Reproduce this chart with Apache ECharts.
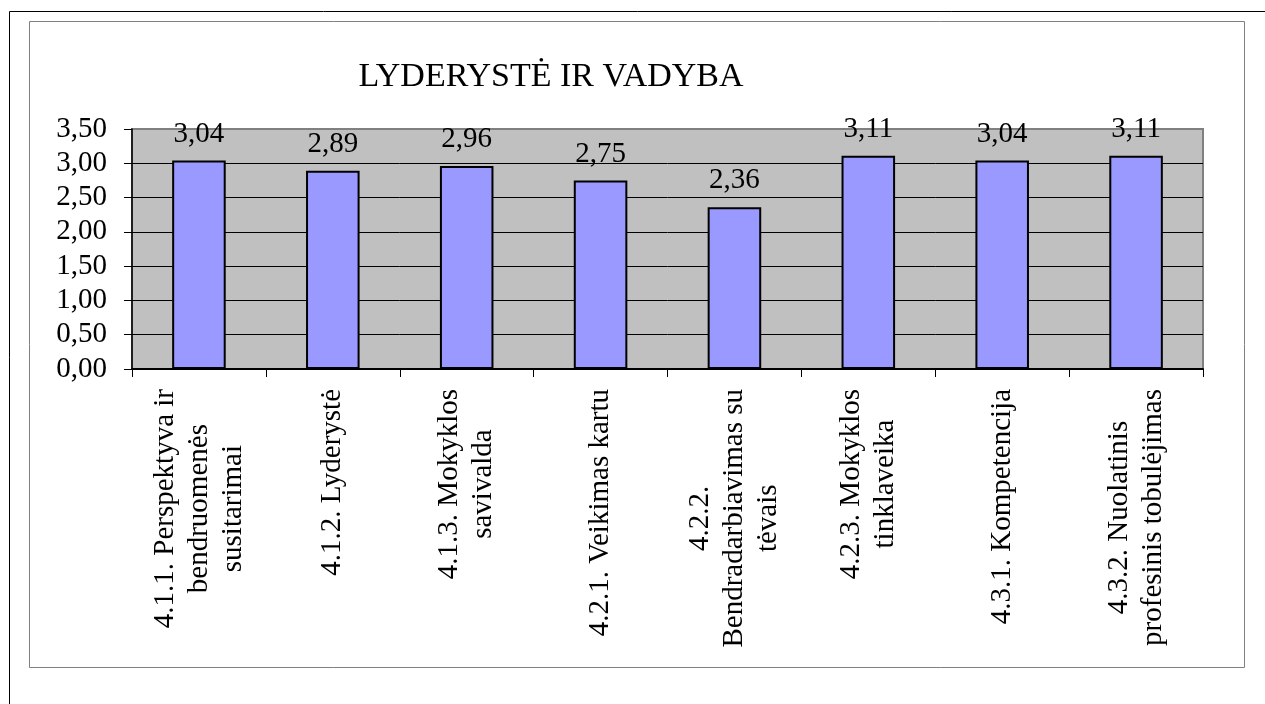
<!DOCTYPE html>
<html>
<head>
<meta charset="utf-8">
<script src="https://cdn.jsdelivr.net/npm/echarts@6/dist/echarts.min.js"></script>
<style>
html,body{margin:0;padding:0;background:#fff;}
#c{width:1265px;height:704px;}
</style>
</head>
<body>
<div id="c"></div>
<script>
const title = 'LYDERYSTĖ IR VADYBA';
const categories = [
  '4.1.1. Perspektyva ir\nbendruomenės\nsusitarimai',
  '4.1.2. Lyderystė',
  '4.1.3. Mokyklos\nsavivalda',
  '4.2.1. Veikimas kartu',
  '4.2.2.\nBendradarbiavimas su\ntėvais',
  '4.2.3. Mokyklos\ntinklaveika',
  '4.3.1. Kompetencija',
  '4.3.2. Nuolatinis\nprofesinis tobulėjimas'
];
const values = [3.04, 2.89, 2.96, 2.75, 2.36, 3.11, 3.04, 3.11];
const yMin = 0, yMax = 3.5, yStep = 0.5;

const FONT = '"Liberation Serif", "Times New Roman", serif';
const fmt = v => Number(v).toFixed(2).replace('.', ',');

const chart = echarts.init(document.getElementById('c'), null, {renderer: 'canvas'});
chart.setOption({
  animation: false,
  backgroundColor: '#fff',
  title: {
    text: title,
    left: 546, top: 55, textAlign: 'center',
    textStyle: {fontFamily: FONT, fontSize: 34, fontWeight: 'normal', color: '#000'}
  },
  graphic: [
    {type: 'polyline', silent: true, shape: {points: [[9.5, 704], [9.5, 11.5], [1265, 11.5]]},
     style: {stroke: '#000', lineWidth: 1, fill: null}},
    {type: 'rect', silent: true, shape: {x: 29.5, y: 21.5, width: 1215, height: 646},
     style: {stroke: '#808080', lineWidth: 1, fill: null}, z: -1}
  ],
  grid: {
    left: 132, top: 129, right: 62, bottom: 335,
    show: true, backgroundColor: '#C0C0C0', borderColor: '#808080', borderWidth: 2
  },
  xAxis: {
    type: 'category', data: categories, boundaryGap: true,
    axisLine: {show: true, lineStyle: {color: '#000', width: 2}},
    axisTick: {show: true, length: 8, lineStyle: {color: '#000', width: 1}},
    axisLabel: {
      rotate: 90, margin: 20, interval: 0, color: '#000',
      fontFamily: FONT, fontSize: 29, lineHeight: 34,
      formatter: v => v.split('\n').map(s => '{c|' + s + '}').join('\n'),
      rich: {c: {align: 'center', fontFamily: FONT, fontSize: 29, lineHeight: 34, color: '#000'}}
    },
    splitLine: {show: false}
  },
  yAxis: {
    type: 'value', min: yMin, max: yMax, interval: yStep,
    axisLine: {show: true, lineStyle: {color: '#000', width: 1.5}},
    axisTick: {show: true, length: 8, lineStyle: {color: '#000', width: 1}},
    axisLabel: {margin: 25, color: '#000', fontFamily: FONT, fontSize: 29, formatter: fmt},
    splitLine: {show: true, showMaxLine: false, showMinLine: false, lineStyle: {color: '#000', width: 1}}
  },
  series: [{
    type: 'bar', data: values, barWidth: '40%',
    itemStyle: {color: '#9999FF', borderColor: '#000', borderWidth: 2},
    label: {show: true, position: 'top', distance: 12, color: '#000',
            fontFamily: FONT, fontSize: 29, formatter: p => fmt(p.value)}
  }]
});
</script>
</body>
</html>
